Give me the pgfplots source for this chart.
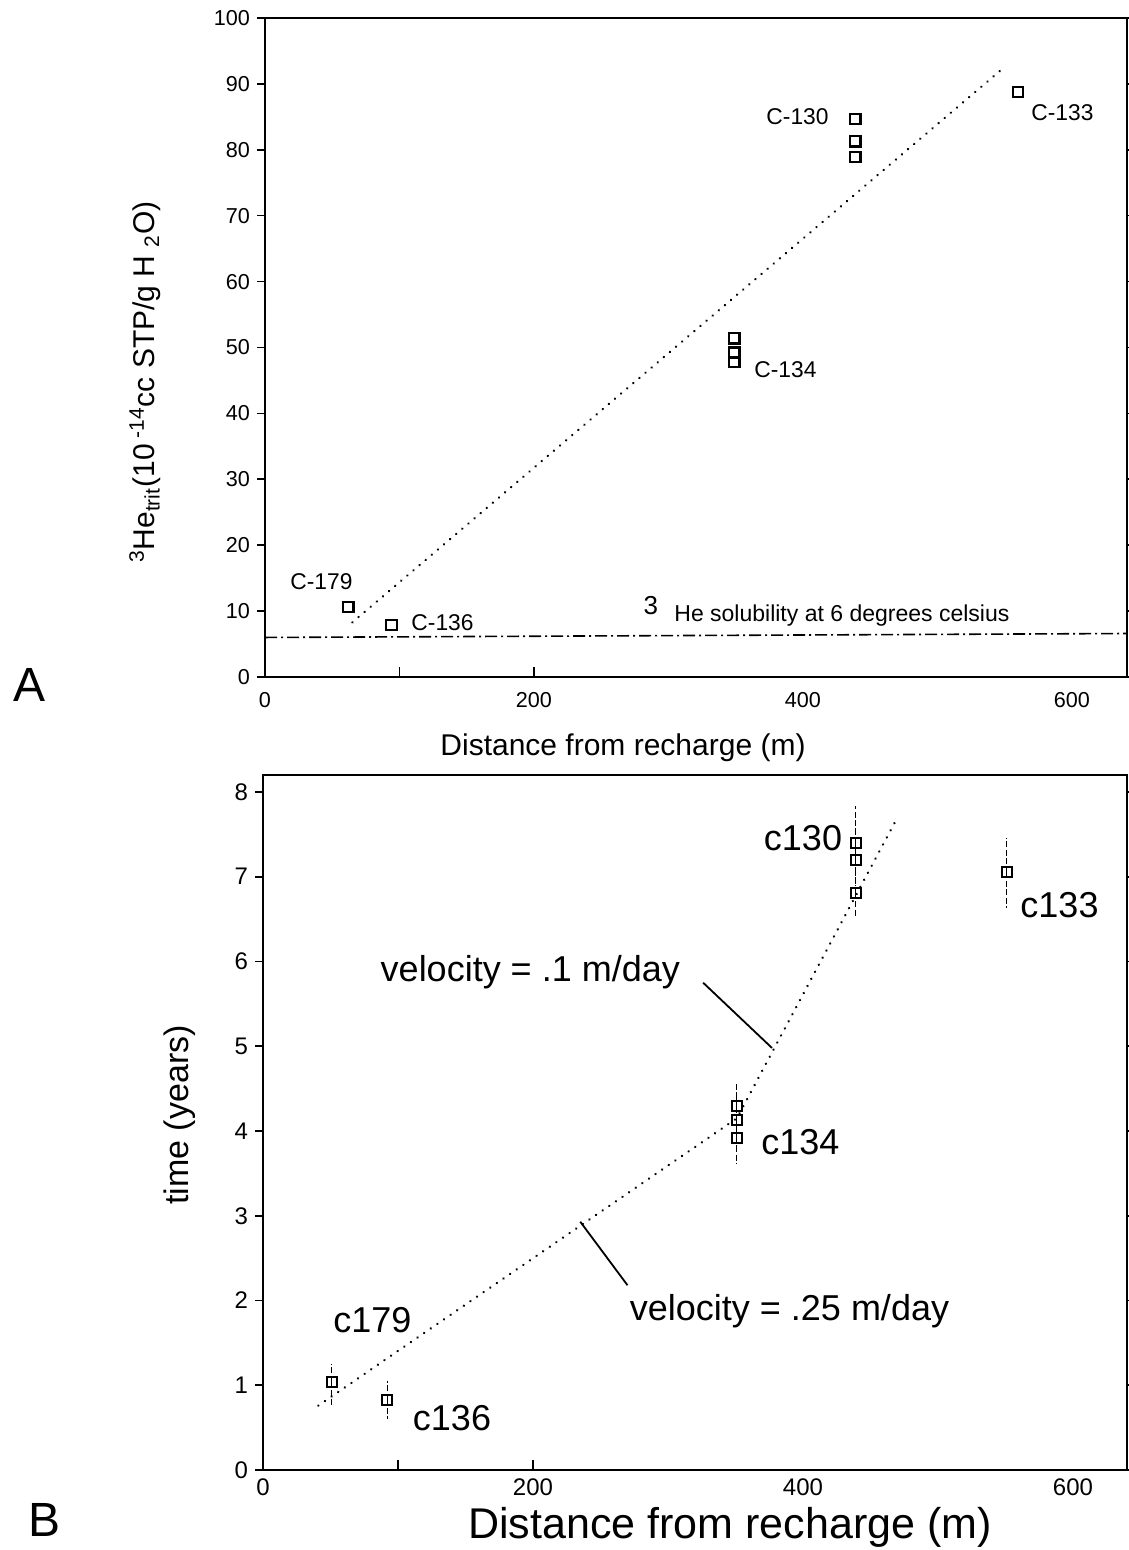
\documentclass[border=0pt]{standalone}
\usepackage{pgfplots}
\pgfplotsset{compat=1.18}
\usepackage{pgfplotstable}
\usepackage{fontspec}
\setmainfont{Liberation Sans}
\pgfplotstableread{
x y
62 10.6
94 7.9
349 51.4
349 49.2
349 47.8
439 84.7
439 81.3
439 78.9
560 88.8
}\dataA
\pgfplotstableread{
x y
65 8.3
549 92.4
}\fitA
\pgfplotstableread{
x y ep em
51 1.04 0.21 0.27
92 0.83 0.22 0.23
351 4.29 0.26 0.3
351 4.13 0.3 0.3
351 3.92 0.3 0.30
439 7.40 0.43 0.3
439 7.20 0.3 0.3
439 6.81 0.3 0.29
551 7.05 0.41 0.42
}\dataB
\pgfplotstableread{
x y
41 0.76
351 4.15
470 7.70
}\fitB
\tikzset{dotline/.style={line width=1.3pt, line cap=round, dash pattern=on 0.01pt off 4pt}}
\pgfplotsset{myaxis/.style={
  scale only axis, clip=false,
  axis line style={line width=1pt},
  tick style={black, line width=0.8pt},
  tick align=outside, major tick length=4pt,
  xtick={0,200,400,600},
  x tick style={draw=none},
  /pgf/number format/assume math mode=true,
}}
\begin{document}
\begin{tikzpicture}[x=0.5pt,y=-0.5pt]
\useasboundingbox (0,0) rectangle (1128,1550);
% ---------- Panel A ----------
\begin{axis}[myaxis, at={(132.5pt,-338.5pt)}, anchor=south west,
  width=431pt, height=329.5pt,
  xmin=0, xmax=641, ymin=0, ymax=100,
  ytick={0,10,...,100},
  tick label style={font=\fontsize{10.8}{12}\selectfont},
]
\addplot[only marks, mark=square, mark size=2.6pt, mark options={line width=1.1pt}] table[x=x,y=y] {\dataA};
\addplot[dotline] table[x=x,y=y] {\fitA};
\addplot[line width=0.8pt, dash pattern=on 6pt off 2pt on 1pt off 2pt] coordinates {(0,6.0) (641,6.6)};
\draw[line width=0.8pt] (axis cs:100,0) -- ++(0,5pt);
\draw[line width=0.8pt] (axis cs:200,0) -- ++(0,5pt);
\begin{scope}[font=\fontsize{11.4}{13}\selectfont]
\node at (axis cs:42,14.4) {C-179};
\node at (axis cs:132,8.3) {C-136};
\node at (axis cs:387,46.6) {C-134};
\node at (axis cs:396,85.1) {C-130};
\node at (axis cs:593,85.7) {C-133};
\end{scope}
\node[font=\fontsize{13}{15}\selectfont] at (axis cs:287,10.9) {3};
\node[font=\fontsize{11.5}{13}\selectfont] at (axis cs:429,9.3) {He solubility at 6 degrees celsius};
\end{axis}
% ---------- Panel B ----------
\begin{axis}[myaxis, at={(131.5pt,-735pt)}, anchor=south west,
  width=432pt, height=347.5pt,
  xmin=0, xmax=640, ymin=0, ymax=8.2,
  ytick={0,1,...,8},
  tick label style={font=\fontsize{12}{14}\selectfont},
  xticklabel style={yshift=3pt},
]
\addplot[only marks, mark=square, mark size=2.5pt, mark options={line width=1pt, solid},
  error bars/.cd, y dir=both, y explicit, error mark=none,
  error bar style={line width=0.5pt, dash pattern=on 3pt off 1.2pt}]
  table[x=x,y=y,y error plus=ep,y error minus=em] {\dataB};
\addplot[dotline] table[x=x,y=y] {\fitB};
\draw[line width=0.8pt] (axis cs:100,0) -- ++(0,5pt);
\draw[line width=0.8pt] (axis cs:200,0) -- ++(0,5pt);
\draw[line width=0.9pt] (axis cs:326,5.75) -- (axis cs:377,4.98);
\draw[line width=0.9pt] (axis cs:235,2.93) -- (axis cs:270,2.18);
\begin{scope}[font=\fontsize{18}{20}\selectfont]
\node at (axis cs:400,7.46) {c130};
\node at (axis cs:590,6.67) {c133};
\node at (axis cs:398,3.87) {c134};
\node at (axis cs:81,1.77) {c179};
\node at (axis cs:140,0.61) {c136};
\node at (axis cs:198,5.87) {velocity = .1 m/day};
\node at (axis cs:390,1.87) {velocity = .25 m/day};
\end{scope}
\end{axis}
% ---------- outer labels ----------
\node[font=\fontsize{15}{17}\selectfont] at (623,748) {Distance from recharge (m)};
\node[rotate=90, font=\fontsize{15}{17}\selectfont] at (145,382)
  {\textsuperscript{3}He\textsubscript{trit}(10\textsuperscript{ -14}cc STP/g H \textsubscript{2}O)};
\node[font=\fontsize{21.5}{24}\selectfont, inner sep=0pt] at (730,1527) {Distance from recharge (m)};
\node[rotate=90, font=\fontsize{17}{20}\selectfont] at (180,1115) {time (years)};
\node[font=\fontsize{24}{28}\selectfont] at (30,685) {A};
\node[font=\fontsize{24}{28}\selectfont] at (45,1520) {B};
\end{tikzpicture}
\end{document}
